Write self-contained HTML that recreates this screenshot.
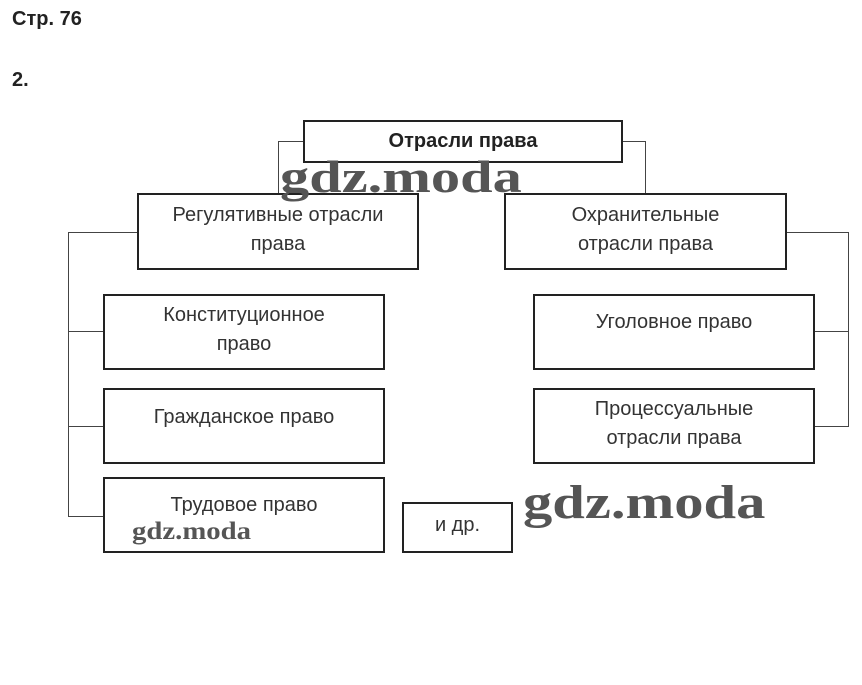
<!DOCTYPE html>
<html><head><meta charset="utf-8"><style>
body{margin:0;width:862px;height:685px;background:#fff;position:relative;font-family:"Liberation Sans",sans-serif;overflow:hidden}
.b{position:absolute;border:2px solid #222;box-sizing:border-box;display:flex;align-items:center;justify-content:center;text-align:center;font-size:20px;color:#333;line-height:29px}
.l{position:absolute;background:#444}
.w{position:absolute;font-family:"Liberation Serif",serif;font-weight:bold;color:#555;transform-origin:left top;white-space:nowrap}
</style></head><body>
<div style="position:absolute;left:12px;top:8px;font-weight:bold;font-size:20px;color:#222">Стр. 76</div>
<div style="position:absolute;left:12px;top:69px;font-weight:bold;font-size:20px;color:#222">2.</div>
<div class="l" style="left:278px;top:141px;width:26px;height:1px"></div>
<div class="l" style="left:278px;top:141px;width:1px;height:53px"></div>
<div class="l" style="left:621px;top:141px;width:25px;height:1px"></div>
<div class="l" style="left:645px;top:141px;width:1px;height:53px"></div>
<div class="l" style="left:68px;top:232px;width:70px;height:1px"></div>
<div class="l" style="left:68px;top:232px;width:1px;height:285px"></div>
<div class="l" style="left:68px;top:331px;width:36px;height:1px"></div>
<div class="l" style="left:68px;top:426px;width:36px;height:1px"></div>
<div class="l" style="left:68px;top:516px;width:36px;height:1px"></div>
<div class="l" style="left:785px;top:232px;width:64px;height:1px"></div>
<div class="l" style="left:848px;top:232px;width:1px;height:195px"></div>
<div class="l" style="left:813px;top:331px;width:36px;height:1px"></div>
<div class="l" style="left:813px;top:426px;width:36px;height:1px"></div>
<div class="b" style="left:303px;top:120px;width:320px;height:43px;font-weight:bold;color:#222">Отрасли права</div>
<div class="b" style="left:137px;top:193px;width:282px;height:77px;padding-bottom:4px">Регулятивные отрасли<br>права</div>
<div class="b" style="left:504px;top:193px;width:283px;height:77px;padding-bottom:4px">Охранительные<br>отрасли права</div>
<div class="b" style="left:103px;top:294px;width:282px;height:76px;padding-bottom:4px">Конституционное<br>право</div>
<div class="b" style="left:103px;top:388px;width:282px;height:76px;padding-bottom:18px">Гражданское право</div>
<div class="b" style="left:103px;top:477px;width:282px;height:76px;padding-bottom:20px">Трудовое право</div>
<div class="b" style="left:533px;top:294px;width:282px;height:76px;padding-bottom:20px">Уголовное право</div>
<div class="b" style="left:533px;top:388px;width:282px;height:76px;padding-bottom:4px">Процессуальные<br>отрасли права</div>
<div class="b" style="left:402px;top:502px;width:111px;height:51px;padding-bottom:4px">и др.</div>
<div class="w" style="left:280px;top:150px;font-size:46px;transform:scaleX(1.27)">gdz.moda</div>
<div class="w" style="left:523px;top:475px;font-size:48px;transform:scaleX(1.22)">gdz.moda</div>
<div class="w" style="left:132px;top:518px;font-size:25px;transform:scaleX(1.15)">gdz.moda</div>
</body></html>
